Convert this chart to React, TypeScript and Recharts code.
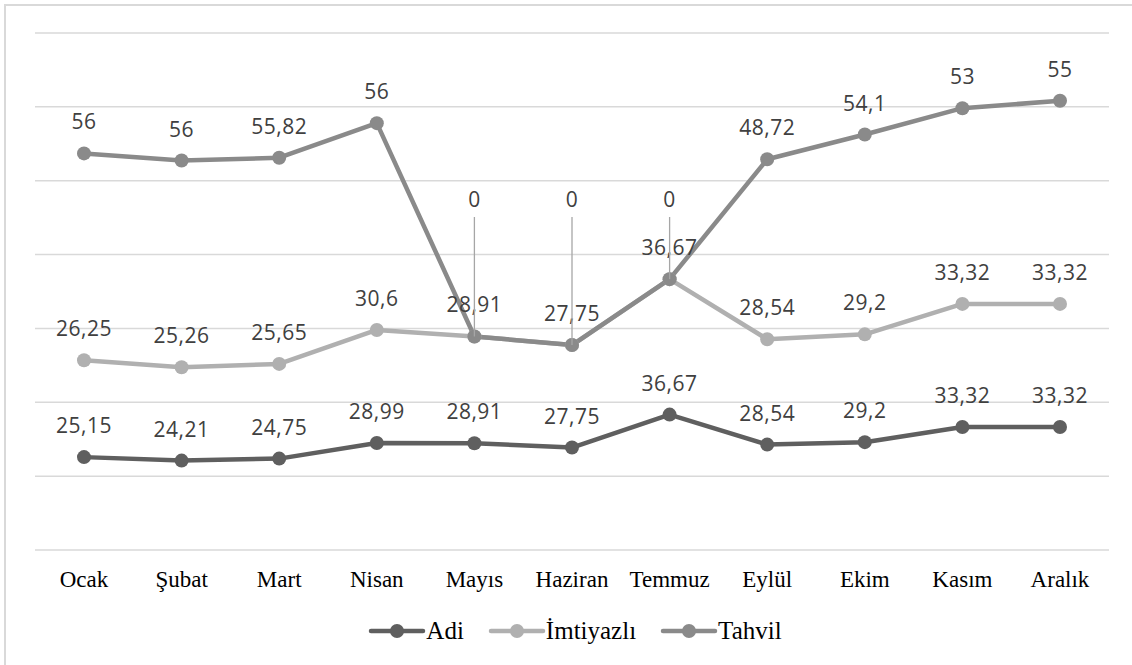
import React from "react";
import { LineChart, Line, XAxis, YAxis, CartesianGrid, LabelList } from "recharts";

const MONTHS = ["Ocak", "Şubat", "Mart", "Nisan", "Mayıs", "Haziran", "Temmuz", "Eylül", "Ekim", "Kasım", "Aralık"];
const ADI = [25.15, 24.21, 24.75, 28.99, 28.91, 27.75, 36.67, 28.54, 29.2, 33.32, 33.32];
const IMTIYAZLI = [26.25, 25.26, 25.65, 30.6, 28.91, 27.75, 36.67, 28.54, 29.2, 33.32, 33.32];
const TAHVIL = [56, 56, 55.82, 56, 0, 0, 0, 48.72, 54.1, 53, 55];
const SERIES_NAMES = ["Adi", "İmtiyazlı", "Tahvil"];
const Y_TICKS = [0, 20, 40, 60, 80, 100, 120, 140];

const COLORS = ["#5f5f5f", "#b0b0b0", "#8a8a8a"];
const SERIF = "'Liberation Serif', 'Times New Roman', serif";
const SANS = "'Open Sans', 'Noto Sans', sans-serif";

// stacked line chart: each line sits on top of the previous ones,
// labels still show the series' own value
const rows = MONTHS.map((m, i) => ({
  month: m,
  adi: ADI[i],
  imtiyazli: IMTIYAZLI[i],
  tahvil: TAHVIL[i],
  adiStack: ADI[i],
  imtStack: ADI[i] + IMTIYAZLI[i],
  tahStack: ADI[i] + IMTIYAZLI[i] + TAHVIL[i],
}));

const fmt = (v: number) => String(v).replace(".", ",");

// zero labels were dragged up in the original with a leader line
const ZERO_LABEL_BASELINE = 207;

function ValueLabel(props: any) {
  const x = props.x ?? props.viewBox?.x;
  const y = props.y ?? props.viewBox?.y;
  const v = Number(props.value);
  if (x == null || y == null) return null;
  const textProps = {
    textAnchor: "middle" as const,
    fontFamily: SANS,
    fontSize: 21,
    letterSpacing: 0.5,
    fill: "#404040",
  };
  if (v === 0) {
    return (
      <g>
        <line x1={x} y1={ZERO_LABEL_BASELINE + 10} x2={x} y2={y} stroke="#a6a6a6" strokeWidth={1.3} />
        <text x={x} y={ZERO_LABEL_BASELINE} {...textProps}>
          0
        </text>
      </g>
    );
  }
  return (
    <text x={x} y={y - 24} {...textProps}>
      {fmt(v)}
    </text>
  );
}

function MonthTick({ x, y, payload }: any) {
  return (
    <text x={x} y={y + 37} textAnchor="middle" fontFamily={SERIF} fontSize={23} fill="#000">
      {payload.value}
    </text>
  );
}

export default function App() {
  const keys = [
    { stack: "adiStack", raw: "adi" },
    { stack: "imtStack", raw: "imtiyazli" },
    { stack: "tahStack", raw: "tahvil" },
  ];

  return (
    <div style={{ position: "absolute", left: 0, top: 0, width: 1132, height: 665, overflow: "hidden", background: "#fff" }}>
      <div
        style={{
          position: "absolute",
          left: 4,
          top: 4,
          width: 1140,
          height: 670,
          borderTop: "2px solid #d9d9d9",
          borderLeft: "2px solid #d9d9d9",
        }}
      />
      <div style={{ position: "absolute", left: 0, top: 0 }}>
        <LineChart width={1132} height={665} data={rows} margin={{ top: 33, right: 23, bottom: 75, left: 35 }}>
          <CartesianGrid vertical={false} stroke="#d9d9d9" strokeWidth={1.5} />
          <XAxis
            dataKey="month"
            axisLine={false}
            tickLine={false}
            tickSize={0}
            tickMargin={0}
            height={40}
            interval={0}
            padding={{ left: 49, right: 49 }}
            tick={<MonthTick />}
          />
          <YAxis hide domain={[0, 140]} ticks={Y_TICKS} />
          {keys.map((k, i) => (
            <Line
              key={k.stack}
              dataKey={k.stack}
              name={SERIES_NAMES[i]}
              stroke={COLORS[i]}
              strokeWidth={4.5}
              strokeLinejoin="round"
              dot={{ r: 7, fill: COLORS[i], stroke: "none" }}
              activeDot={false}
              isAnimationActive={false}
            >
              <LabelList dataKey={k.raw} content={<ValueLabel />} />
            </Line>
          ))}
        </LineChart>
      </div>
      <div
        style={{
          position: "absolute",
          left: 0,
          top: 615,
          width: 1150,
          height: 32,
          display: "flex",
          justifyContent: "center",
          alignItems: "center",
          gap: 24,
          fontFamily: SERIF,
          fontSize: 25,
          color: "#000",
        }}
      >
        {SERIES_NAMES.map((name, i) => (
          <span key={name} style={{ display: "flex", alignItems: "center" }}>
            <svg width={58} height={16}>
              <line x1={3} x2={55} y1={8} y2={8} stroke={COLORS[i]} strokeWidth={4.5} strokeLinecap="round" />
              <circle cx={29} cy={8} r={7} fill={COLORS[i]} />
            </svg>
            {name}
          </span>
        ))}
      </div>
    </div>
  );
}
